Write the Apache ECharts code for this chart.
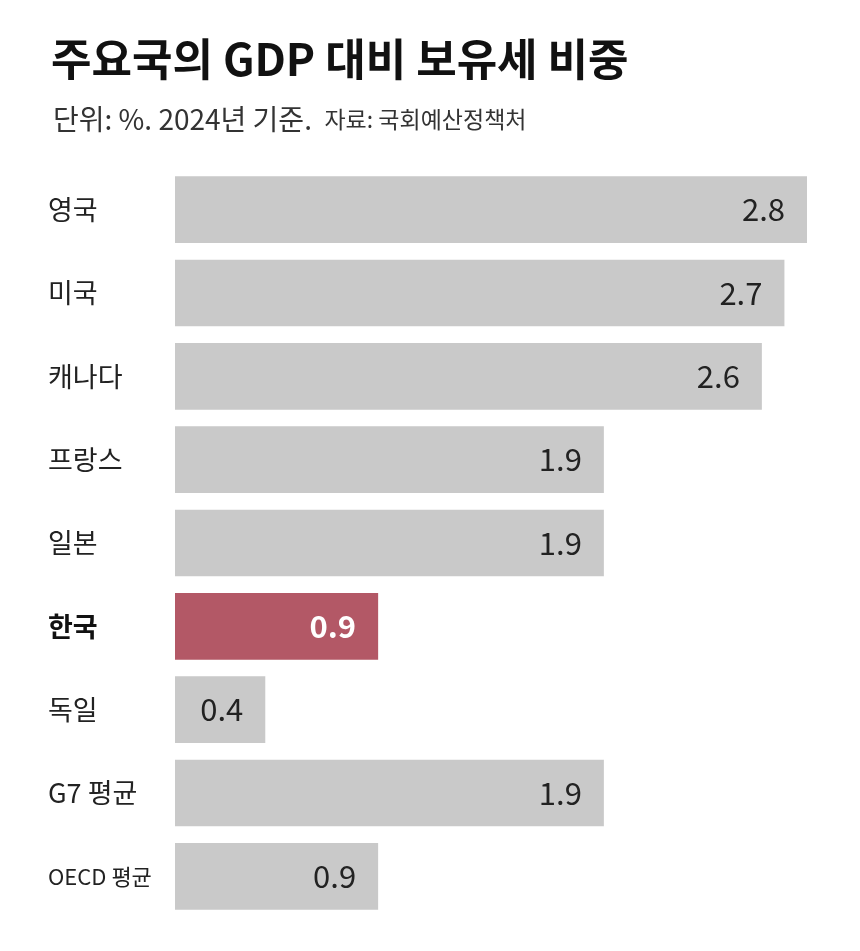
<!DOCTYPE html>
<html>
<head>
<meta charset="utf-8">
<script src="https://cdn.jsdelivr.net/npm/echarts@6/dist/echarts.min.js"></script>
<style>
  html, body { margin: 0; padding: 0; background: #fff; }
  #chart { width: 860px; height: 951px; }
</style>
</head>
<body>
<div id="chart"></div>
<script>
// data
const countries = ['영국', '미국', '캐나다', '프랑스', '일본', '한국', '독일', 'G7 평균', 'OECD 평균'];
const shares = [2.8, 2.7, 2.6, 1.9, 1.9, 0.9, 0.4, 1.9, 0.9];
const highlight = '한국';

const font = '"Noto Sans CJK KR", "Noto Sans", sans-serif';
const chart = echarts.init(document.getElementById('chart'));

chart.setOption({
  animation: false,
  title: [
    {
      text: '주요국의 GDP 대비 보유세 비중',
      left: 46, top: 32,
      textStyle: { fontFamily: font, fontSize: 44, fontWeight: 'bold', color: '#111' }
    },
    {
      text: '단위: %. 2024년 기준.  {s|자료: 국회예산정책처}',
      left: 48, top: 100,
      textStyle: {
        fontFamily: font, fontSize: 28, fontWeight: 'normal', color: '#333',
        rich: { s: { fontFamily: font, fontSize: 23, color: '#333' } }
      }
    }
  ],
  grid: { left: 175, right: 53, top: 168, bottom: 33 },
  xAxis: { type: 'value', min: 0, max: 2.8, show: false },
  yAxis: {
    type: 'category',
    inverse: true,
    data: countries,
    axisLine: { show: false },
    axisTick: { show: false },
    axisLabel: {
      margin: 127,
      align: 'left',
      fontFamily: font,
      fontSize: 27,
      color: '#222',
      formatter: v => v === highlight ? '{b|' + v + '}' : (v === 'OECD 평균' ? '{o|' + v + '}' : v),
      rich: {
        b: { fontFamily: font, fontSize: 27, fontWeight: 'bold', color: '#111' },
        o: { fontFamily: font, fontSize: 22, color: '#222' }
      }
    }
  },
  series: [{
    type: 'bar',
    barCategoryGap: '20%',
    data: shares.map((v, i) => ({
      value: v,
      itemStyle: { color: countries[i] === highlight ? '#b35866' : '#c9c9c9' },
      label: countries[i] === highlight
        ? { color: '#fff', fontWeight: 'bold' }
        : {}
    })),
    label: {
      show: true,
      position: 'insideRight',
      distance: 22,
      fontFamily: font,
      fontSize: 31,
      color: '#222',
      formatter: p => p.value.toFixed(1)
    }
  }]
});
</script>
</body>
</html>
